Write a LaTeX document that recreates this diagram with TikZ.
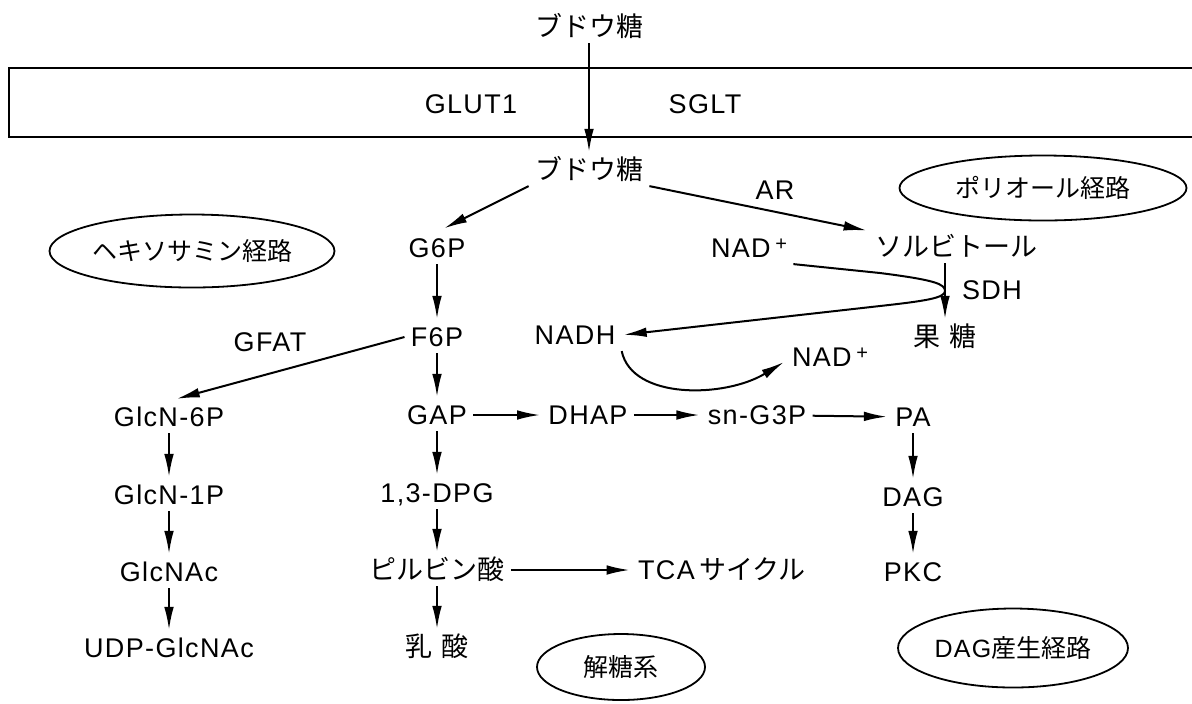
\documentclass[tikz,border=0pt]{standalone}
\usepackage{fontspec}
\setmainfont{Liberation Sans}[LetterSpace=5]
\newfontfamily\cjk{Noto Sans CJK JP}
\newcommand\plussup{\,\raisebox{0.5ex}{\fontsize{10}{10}\selectfont +}}
\usetikzlibrary{arrows.meta,shapes.geometric}
\begin{document}
\begin{tikzpicture}[x=0.5pt,y=-0.5pt,
  every node/.style={font=\fontsize{13.5}{16}\selectfont},
  lbl/.style={inner xsep=3pt, inner ysep=3pt, text height=9.7pt, text depth=0pt},
  pathway/.style={draw, ellipse, line width=0.9pt, inner sep=0pt, font=\fontsize{12.5}{14}\selectfont\cjk},
  arr/.style={-{Latex[length=11.5pt,width=4.8pt]}, line width=1pt, shorten >=1pt},
  ln/.style={line width=1pt}]
\useasboundingbox (0,0) rectangle (1192,703);

% membrane
\draw[ln] (1192,68) -- (9,68) -- (9,137) -- (1192,137);
\node[lbl] (glut) at (471,104) {GLUT1};
\node[lbl] (sglt) at (705,104) {SGLT};

% top
\node[lbl] (bud1) at (589,27) {\cjk ブドウ糖};
\node[lbl] (bud2) at (589,170) {\cjk ブドウ糖};
\draw[arr] (bud1) -- (bud2);

% pathway ellipses
\node[pathway, minimum width=143.5pt, minimum height=32.5pt] (polyol) at (1043,188) {ポリオール経路};
\node[pathway, minimum width=142.5pt, minimum height=36.5pt] (hex) at (192,251) {ヘキソサミン経路};
\node[pathway, minimum width=84pt, minimum height=33pt] (glyco) at (621,667) {解糖系};
\node[pathway, minimum width=115pt, minimum height=39.5pt] (dagp) at (1013,648) {\fontspec{Liberation Sans}[LetterSpace=5]DAG\cjk 産生経路};

% glycolysis column
\node[lbl] (g6p) at (437,248) {G6P};
\node[lbl] (f6p) at (437,337) {F6P};
\node[lbl] (gap) at (437,415) {GAP};
\node[lbl] (dpg) at (437,493) {1,3-DPG};
\node[lbl] (pyr) at (437,570) {\cjk ピルビン酸};
\node[lbl] (lac) at (437,647) {\cjk 乳\hspace{0.3em}酸};

% hexosamine column
\node[lbl] (glcn6p) at (169,417) {GlcN-6P};
\node[lbl] (glcn1p) at (169,495) {GlcN-1P};
\node[lbl] (glcnac) at (169,572) {GlcNAc};
\node[lbl] (udp) at (169,648) {UDP-GlcNAc};
\node[lbl] (gfat) at (270,342) {GFAT};

% middle row
\node[lbl] (dhap) at (588,415) {DHAP};
\node[lbl] (sng3p) at (757,415) {sn-G3P};
\node[lbl] (pa) at (913,417) {PA};
\node[lbl] (dag) at (913,497) {DAG};
\node[lbl] (pkc) at (913,572) {PKC};
\node[lbl] (tca) at (722,570) {TCA\,{\cjk サイクル}};

% polyol
\node[lbl] (ar) at (775,190) {AR};
\node[lbl] (sorb) at (956,247) {\cjk ソルビトール};
\node[lbl] (nad1) at (749,248) {NAD\plussup};
\node[lbl] (sdh) at (992,290) {SDH};
\node[lbl] (fru) at (945,337) {\cjk 果\hspace{0.3em}糖};
\node[lbl] (nadh) at (575,335) {NADH};
\node[lbl] (nad2) at (830,357) {NAD\plussup};

% connectors
\draw[arr, shorten >=4pt] (bud2.south west) -- (g6p.north);
\draw[arr] (bud2.south east) -- (sorb.north west);
\draw[arr] (g6p) -- (f6p);
\draw[arr] (f6p) -- (gap);
\draw[arr] (gap) -- (dpg);
\draw[arr] (dpg) -- (pyr);
\draw[arr] (pyr) -- (lac);
\draw[arr, shorten >=4pt] (f6p.west) -- (glcn6p.north);
\draw[arr] (glcn6p) -- (glcn1p);
\draw[arr] (glcn1p) -- (glcnac);
\draw[arr] (glcnac) -- (udp);
\draw[arr] (gap) -- (dhap);
\draw[arr] (dhap) -- (sng3p);
\draw[arr] (sng3p) -- (pa);
\draw[arr] (pa) -- (dag);
\draw[arr] (dag) -- (pkc);
\draw[arr] (pyr) -- (tca);
\draw[arr] (sorb.south -| fru) -- (fru.north);
\draw[arr] (nad1.south east) -- (880,273) .. controls (935,280) and (945,284) .. (945,291)
   .. controls (945,298) and (925,301) .. (880,306) -- (nadh.east);
\draw[arr] (nadh.south east) .. controls (632,400) and (725,398) .. ([yshift=-2pt]nad2.west);
\end{tikzpicture}
\end{document}
